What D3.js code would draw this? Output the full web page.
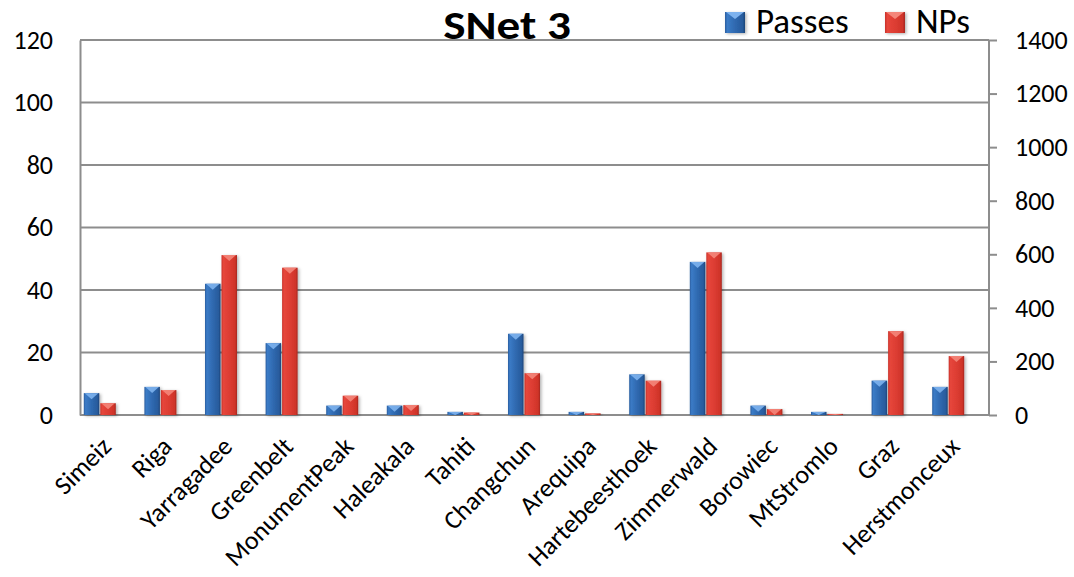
<!DOCTYPE html>
<html>
<head>
<meta charset="utf-8">
<script src="https://cdn.jsdelivr.net/npm/d3@7"></script>
<style>
  html, body { margin: 0; padding: 0; background: #fff; }
  svg { display: block; font-family: Carlito, Lato, "Liberation Sans", sans-serif; }
</style>
</head>
<body>
<svg id="chart" width="1074" height="577"></svg>
<script>
// Stations observed by SNet 3
const stations = ["Simeiz", "Riga", "Yarragadee", "Greenbelt", "MonumentPeak", "Haleakala",
  "Tahiti", "Changchun", "Arequipa", "Hartebeesthoek", "Zimmerwald", "Borowiec",
  "MtStromlo", "Graz", "Herstmonceux"];
// Number of passes per station (left axis)
const passes = [7, 9, 42, 23, 3, 3, 1, 26, 1, 13, 49, 3, 1, 11, 9];
// Number of normal points per station (right axis)
const normalPoints = [44, 93, 597, 550, 72, 37, 9, 156, 6, 128, 607, 22, 4, 313, 220];
const leftTicks = [0, 20, 40, 60, 80, 100, 120];
const rightTicks = [0, 200, 400, 600, 800, 1000, 1200, 1400];
const seriesNames = ["Passes", "NPs"];

const svg = d3.select("#chart");
const plot = { left: 80, right: 989, top: 40, bottom: 415 };

const yLeft = d3.scaleLinear().domain([0, 120]).range([plot.bottom, plot.top]);
const yRight = d3.scaleLinear().domain([0, 1400]).range([plot.bottom, plot.top]);
const x = d3.scaleBand().domain(stations).range([69.5, 978.5]).padding(0);

// Bevelled bar fills
const defs = svg.append("defs");
function grad(id, stops) {
  const g = defs.append("linearGradient").attr("id", id)
    .attr("x1", "0%").attr("x2", "100%").attr("y1", "0%").attr("y2", "0%");
  stops.forEach(([o, c]) => g.append("stop").attr("offset", o).attr("stop-color", c));
}
grad("gBlue", [["0%", "#2a5d9f"], ["12%", "#3b7bc6"], ["50%", "#2f69b0"], ["88%", "#285b9c"], ["100%", "#1c4378"]]);
grad("gRed", [["0%", "#c8322a"], ["12%", "#e6463b"], ["50%", "#dd3d33"], ["88%", "#cf3429"], ["100%", "#a5261f"]]);
const filt = defs.append("filter").attr("id", "shadow").attr("x", "-30%").attr("y", "-10%").attr("width", "160%").attr("height", "130%");
filt.append("feDropShadow").attr("dx", 1.5).attr("dy", 1).attr("stdDeviation", 1.5).attr("flood-color", "#000").attr("flood-opacity", 0.3);

// Gridlines
svg.append("g").selectAll("line").data(leftTicks).join("line")
  .attr("x1", plot.left).attr("x2", plot.right)
  .attr("y1", d => yLeft(d)).attr("y2", d => yLeft(d))
  .attr("stroke", "#8d8d8d").attr("stroke-width", 2);

// Left axis
const leftAxis = svg.append("g").attr("transform", `translate(${plot.left},0)`)
  .call(d3.axisLeft(yLeft).tickValues(leftTicks).tickSize(0).tickPadding(27));
leftAxis.select(".domain").attr("stroke", "#8d8d8d").attr("stroke-width", 2);
leftAxis.selectAll("text").attr("font-size", 26).attr("fill", "#000")
  .attr("font-family", "Carlito, Lato, sans-serif");

// Right axis
const rightAxis = svg.append("g").attr("transform", `translate(${plot.right},0)`)
  .call(d3.axisRight(yRight).tickValues(rightTicks).tickSize(8).tickPadding(18).tickFormat(d3.format("d")));
rightAxis.select(".domain").attr("stroke", "#8d8d8d").attr("stroke-width", 2).attr("d", `M0,${plot.top}V${plot.bottom}`);
rightAxis.selectAll(".tick line").attr("stroke", "#8d8d8d").attr("stroke-width", 2);
rightAxis.selectAll("text").attr("font-size", 26).attr("fill", "#000")
  .attr("font-family", "Carlito, Lato, sans-serif");

// Bars
const barW = 15.5, gap = 1;
const rows = stations.map((s, i) => ({ s, p: passes[i], n: normalPoints[i] }));
function drawBars(cls, acc, scale, offset, fill, tri) {
  const g = svg.append("g").selectAll("g." + cls).data(rows).join("g").attr("class", cls);
  g.append("rect")
    .attr("x", d => x(d.s) + x.bandwidth() / 2 + offset)
    .attr("width", barW)
    .attr("y", d => scale(acc(d)))
    .attr("height", d => plot.bottom - scale(acc(d)))
    .attr("fill", fill)
    .attr("filter", "url(#shadow)");
  // bevel highlight at the top of each bar
  g.append("path")
    .attr("d", d => {
      const x0 = x(d.s) + x.bandwidth() / 2 + offset;
      const y0 = scale(acc(d));
      const h = Math.min(6, plot.bottom - y0);
      return `M${x0 + 1},${y0}L${x0 + barW - 1},${y0}L${x0 + barW / 2},${y0 + h}Z`;
    })
    .attr("fill", tri).attr("opacity", 0.9);
}
drawBars("pass", d => d.p, yLeft, -(barW + gap / 2), "url(#gBlue)", "#7db2ee");
drawBars("np", d => d.n, yRight, gap / 2, "url(#gRed)", "#f4867a");

// Category labels
svg.append("g").selectAll("text").data(stations).join("text")
  .attr("transform", d => `translate(${x(d) + x.bandwidth() / 2 + 13},${448}) rotate(-45)`)
  .attr("text-anchor", "end")
  .attr("font-size", 26)
  .attr("fill", "#000")
  .text(d => d);

// Title
svg.append("text").attr("transform", "translate(507,39) scale(1.15,1)").attr("text-anchor", "middle")
  .attr("font-size", 41).attr("font-weight", "bold").attr("fill", "#000").text("SNet 3");

// Legend
const legend = svg.append("g");
const legendItems = [
  { name: seriesNames[0], x: 725, fill: "url(#gBlue)", tri: "#7db2ee" },
  { name: seriesNames[1], x: 885, fill: "url(#gRed)", tri: "#f4867a" }
];
legendItems.forEach(it => {
  legend.append("rect").attr("x", it.x).attr("y", 12).attr("width", 20).attr("height", 21)
    .attr("fill", it.fill).attr("filter", "url(#shadow)");
  legend.append("path").attr("d", `M${it.x + 1},12L${it.x + 19},12L${it.x + 10},19Z`).attr("fill", it.tri);
  legend.append("text").attr("x", it.x + 31).attr("y", 33).attr("font-size", 35).attr("fill", "#000").text(it.name);
});
</script>
</body>
</html>
